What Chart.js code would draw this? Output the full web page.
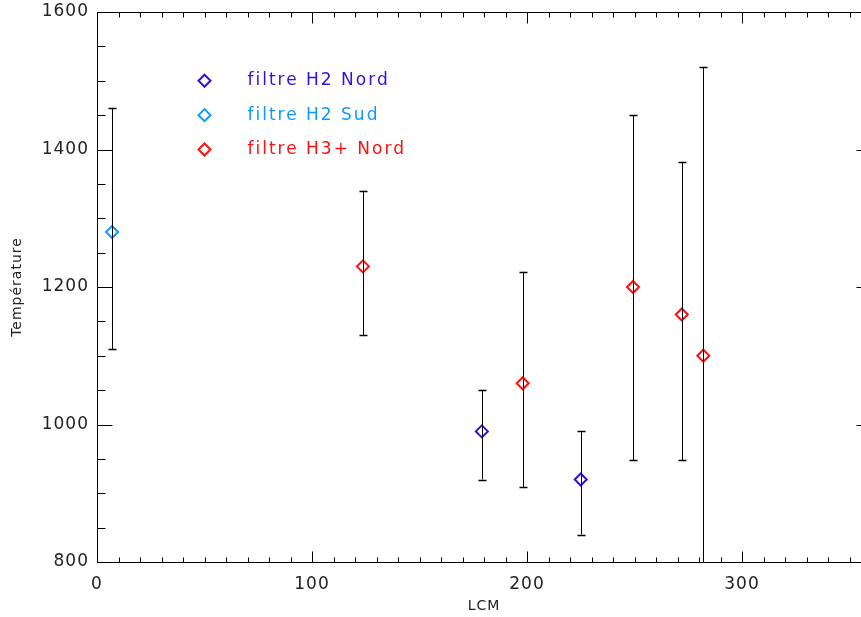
<!DOCTYPE html>
<html>
<head>
<meta charset="utf-8">
<script src="https://cdn.jsdelivr.net/npm/chart.js@4.4.1/dist/chart.umd.min.js"></script>
<style>
html, body { margin: 0; padding: 0; background: #fff; overflow: hidden; }
#wrap { width: 861px; height: 617px; overflow: hidden; }
canvas { display: block; }
</style>
</head>
<body>
<div id="wrap"><canvas id="c" width="880" height="617"></canvas></div>
<script>
// valeurs (LCM en degres, temperature en K)
var lcmH2Nord = [179, 225];
var tempH2Nord = [990, 920];
var lowH2Nord = [920, 840];
var highH2Nord = [1050, 990];

var lcmH2Sud = [7];
var tempH2Sud = [1280];
var lowH2Sud = [1110];
var highH2Sud = [1460];

var lcmH3Nord = [123.7, 198, 249.3, 272, 282];
var tempH3Nord = [1230, 1060, 1200, 1160, 1100];
var lowH3Nord = [1130, 909, 948, 948, 680];
var highH3Nord = [1340, 1222, 1450, 1382, 1520];

var seriesNames = ['filtre H2 Nord', 'filtre H2 Sud', 'filtre H3+ Nord'];
var seriesColors = ['#3311dd', '#1199ff', '#ff1111'];

var xTicks = [0, 100, 200, 300];
var yTicks = [800, 1000, 1200, 1400, 1600];

function points(xs, ys) {
  return xs.map(function (x, i) { return {x: x, y: ys[i]}; });
}

function makeSet(i, xs, ys, lo, hi) {
  return {
    label: seriesNames[i],
    data: points(xs, ys),
    errLow: lo,
    errHigh: hi,
    pointStyle: 'rectRot',
    pointRadius: 6,
    pointBorderWidth: 2,
    borderColor: seriesColors[i],
    backgroundColor: 'rgba(0,0,0,0)',
    showLine: false
  };
}

// cadre a la IDL, graduations vers l'interieur
var boxPlugin = {
  id: 'box',
  beforeDraw: function (chart) {
    chart.ctx.letterSpacing = '1px';
  },
  afterDraw: function (chart) {
    var ctx = chart.ctx, a = chart.chartArea;
    var xs = chart.scales.x, ys = chart.scales.y;
    var l = Math.round(a.left) + 0.5, r = Math.round(a.right) + 0.5;
    var t = Math.round(a.top) + 0.5, b = Math.round(a.bottom) + 0.5;
    ctx.save();
    ctx.strokeStyle = '#000';
    ctx.lineWidth = 1;
    ctx.strokeRect(l, t, r - l, b - t);
    ctx.beginPath();
    var v, p, len;
    for (v = 0; v <= 360; v += 10) {
      p = Math.round(xs.getPixelForValue(v)) + 0.5;
      len = (v % 100 === 0) ? 11 : 5;
      ctx.moveTo(p, b); ctx.lineTo(p, b - len);
      ctx.moveTo(p, t); ctx.lineTo(p, t + len);
    }
    for (v = 800; v <= 1600; v += 50) {
      p = Math.round(ys.getPixelForValue(v)) + 0.5;
      len = (v % 200 === 0) ? 15 : 8;
      ctx.moveTo(l, p); ctx.lineTo(l + len, p);
      ctx.moveTo(r, p); ctx.lineTo(r - len, p);
    }
    ctx.stroke();

    // legende placee en coordonnees des donnees
    var legY = [1500, 1450, 1400];
    ctx.font = '17px "DejaVu Sans"';
    ctx.letterSpacing = '2px';
    ctx.textBaseline = 'middle';
    ctx.textAlign = 'left';
    for (var i = 0; i < seriesNames.length; i++) {
      var mx = xs.getPixelForValue(50), my = ys.getPixelForValue(legY[i]);
      ctx.strokeStyle = seriesColors[i];
      ctx.lineWidth = 2;
      ctx.beginPath();
      ctx.moveTo(mx, my - 6); ctx.lineTo(mx + 6, my);
      ctx.lineTo(mx, my + 6); ctx.lineTo(mx - 6, my);
      ctx.closePath();
      ctx.stroke();
      ctx.fillStyle = seriesColors[i];
      ctx.fillText(seriesNames[i], xs.getPixelForValue(70), my);
    }
    ctx.restore();
  },
  afterDatasetsDraw: function (chart) {
    var ctx = chart.ctx, a = chart.chartArea;
    var xs = chart.scales.x, ys = chart.scales.y;
    ctx.save();
    ctx.beginPath();
    ctx.rect(a.left, a.top, a.right - a.left, a.bottom - a.top);
    ctx.clip();
    ctx.strokeStyle = '#000';
    ctx.lineWidth = 1;
    chart.data.datasets.forEach(function (ds) {
      ds.data.forEach(function (pt, i) {
        var px = Math.round(xs.getPixelForValue(pt.x)) + 0.5;
        var y1 = ys.getPixelForValue(ds.errLow[i]);
        var y2 = ys.getPixelForValue(ds.errHigh[i]);
        ctx.beginPath();
        ctx.moveTo(px, y1); ctx.lineTo(px, y2);
        ctx.stroke();
        ctx.lineWidth = 1.5;
        ctx.beginPath();
        ctx.moveTo(px - 4, Math.round(y1) + 0.5); ctx.lineTo(px + 4, Math.round(y1) + 0.5);
        ctx.moveTo(px - 4, Math.round(y2) + 0.5); ctx.lineTo(px + 4, Math.round(y2) + 0.5);
        ctx.stroke();
        ctx.lineWidth = 1;
      });
    });
    ctx.restore();
  }
};

var tickFont = {family: '"DejaVu Sans"', size: 17};
var titleFont = {family: '"DejaVu Sans"', size: 14};

function plain(v) { return String(v); }

new Chart(document.getElementById('c'), {
  type: 'scatter',
  data: {
    datasets: [
      makeSet(0, lcmH2Nord, tempH2Nord, lowH2Nord, highH2Nord),
      makeSet(1, lcmH2Sud, tempH2Sud, lowH2Sud, highH2Sud),
      makeSet(2, lcmH3Nord, tempH3Nord, lowH3Nord, highH3Nord)
    ]
  },
  options: {
    responsive: false,
    maintainAspectRatio: false,
    devicePixelRatio: 1,
    animation: false,
    layout: {padding: {left: 0, right: 9, top: 12, bottom: 0}},
    plugins: {legend: {display: false}, tooltip: {enabled: false}},
    scales: {
      x: {
        type: 'linear',
        min: 0,
        max: 360,
        afterBuildTicks: function (s) { s.ticks = xTicks.map(function (v) { return {value: v}; }); },
        afterFit: function (s) { s.height = 55; s.paddingLeft = 0; s.paddingRight = 0; },
        grid: {display: false, drawTicks: false},
        border: {display: false},
        ticks: {color: '#222', font: tickFont, padding: 12, maxRotation: 0, callback: plain},
        title: {display: true, text: 'LCM', color: '#222', font: titleFont, padding: {top: 0, bottom: 2}}
      },
      y: {
        type: 'linear',
        min: 800,
        max: 1600,
        afterBuildTicks: function (s) { s.ticks = yTicks.map(function (v) { return {value: v}; }); },
        afterFit: function (s) { s.width = 97; s.paddingTop = 0; s.paddingBottom = 0; },
        grid: {display: false, drawTicks: false},
        border: {display: false},
        ticks: {color: '#222', font: tickFont, padding: 8, callback: plain},
        title: {display: true, text: 'Température', color: '#222', font: titleFont, padding: {top: 9, bottom: 0}}
      }
    }
  },
  plugins: [boxPlugin]
});
</script>
</body>
</html>
